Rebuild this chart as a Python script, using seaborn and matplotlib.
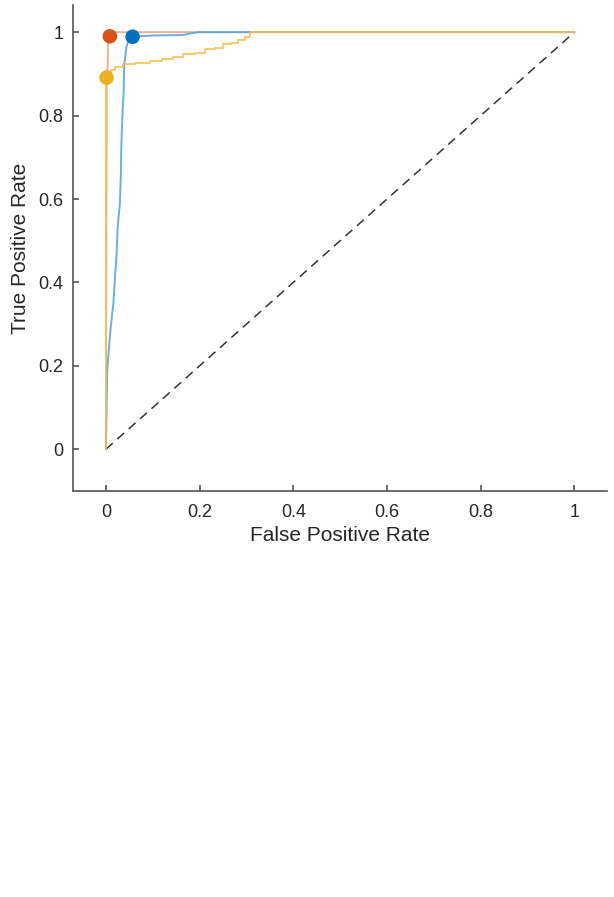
import numpy as np
import pandas as pd
import seaborn as sns
import matplotlib.pyplot as plt

# ROC curves (false positive rate, true positive rate)
blue_fpr = [0, 0.002, 0.003, 0.005, 0.0085, 0.012, 0.016, 0.02, 0.023, 0.025, 0.03,
            0.032, 0.033, 0.035, 0.038, 0.039, 0.044, 0.05, 0.057, 0.1, 0.164, 0.185, 0.2, 1]
blue_tpr = [0, 0.13, 0.19, 0.22, 0.27, 0.31, 0.35, 0.42, 0.47, 0.53, 0.59,
            0.66, 0.73, 0.79, 0.86, 0.92, 0.965, 0.985, 0.989, 0.992, 0.993, 0.998, 1.0, 1.0]

red_fpr = [0, 0.002, 0.004, 0.005, 0.005, 1]
red_tpr = [0, 0.90, 0.92, 0.99, 1.0, 1.0]

yellow_fpr = [0, 0, 0.005, 0.01, 0.019, 0.037, 0.062, 0.094, 0.119, 0.143, 0.165, 0.19,
              0.211, 0.232, 0.25, 0.268, 0.282, 0.296, 0.307, 0.31, 1]
yellow_tpr = [0, 0.89, 0.90, 0.91, 0.917, 0.923, 0.927, 0.931, 0.935, 0.941, 0.947, 0.951,
              0.959, 0.963, 0.971, 0.974, 0.981, 0.989, 0.998, 1.0, 1.0]

# operating points
pt_fpr = [0.057, 0.0085, 0.0015]
pt_tpr = [0.989, 0.990, 0.891]
pt_name = ["blue", "red", "yellow"]

line_col = {"blue": "#4DA3DB", "red": "#F0A082", "yellow": "#F2C150"}
dot_col = {"blue": "#0072BD", "red": "#D95319", "yellow": "#EDB120"}

sns.set_style("ticks")
plt.rcParams['font.family'] = ['Liberation Sans', 'DejaVu Sans']

fig = plt.figure(figsize=(6.14, 8.97), dpi=100)
ax = fig.add_axes([0.119, 0.4526, 0.870, 0.5418])

ax.plot([0, 1], [0, 1], ls=(0, (6, 4)), color="#333333", lw=1.1, zorder=1)

curves = [("red", red_fpr, red_tpr, "default"),
          ("blue", blue_fpr, blue_tpr, "default"),
          ("yellow", yellow_fpr, yellow_tpr, "steps-post")]
for name, fpr, tpr, ds in curves:
    df = pd.DataFrame({"fpr": fpr, "tpr": tpr})
    sns.lineplot(data=df, x="fpr", y="tpr", sort=False, estimator=None, ax=ax,
                 color=line_col[name], lw=1.4, alpha=0.85, drawstyle=ds)

pts = pd.DataFrame({"fpr": pt_fpr, "tpr": pt_tpr, "name": pt_name})
sns.scatterplot(data=pts, x="fpr", y="tpr", hue="name", palette=dot_col, s=110,
                edgecolor="none", legend=False, ax=ax, zorder=5)

ax.set_xlim(-0.07, 1.07)
ax.set_ylim(-0.1, 1.065)
ax.set_xticks([0, 0.2, 0.4, 0.6, 0.8, 1])
ax.set_xticklabels(["0", "0.2", "0.4", "0.6", "0.8", "1"])
ax.set_yticks([0, 0.2, 0.4, 0.6, 0.8, 1])
ax.set_yticklabels(["0", "0.2", "0.4", "0.6", "0.8", "1"])
ax.set_xlabel("False Positive Rate", fontsize=15, color="#262626", labelpad=4)
ax.set_ylabel("True Positive Rate", fontsize=15, color="#262626", labelpad=6)
ax.tick_params(labelsize=13, colors="#555555", labelcolor="#262626", length=4, width=1.2,
               direction="in")
ax.tick_params(axis="x", pad=9)
ax.tick_params(axis="y", pad=7)
sns.despine(ax=ax)
for s in ["left", "bottom"]:
    ax.spines[s].set_color("#555555")
    ax.spines[s].set_linewidth(1.2)

fig.savefig("out.png", dpi=100)
